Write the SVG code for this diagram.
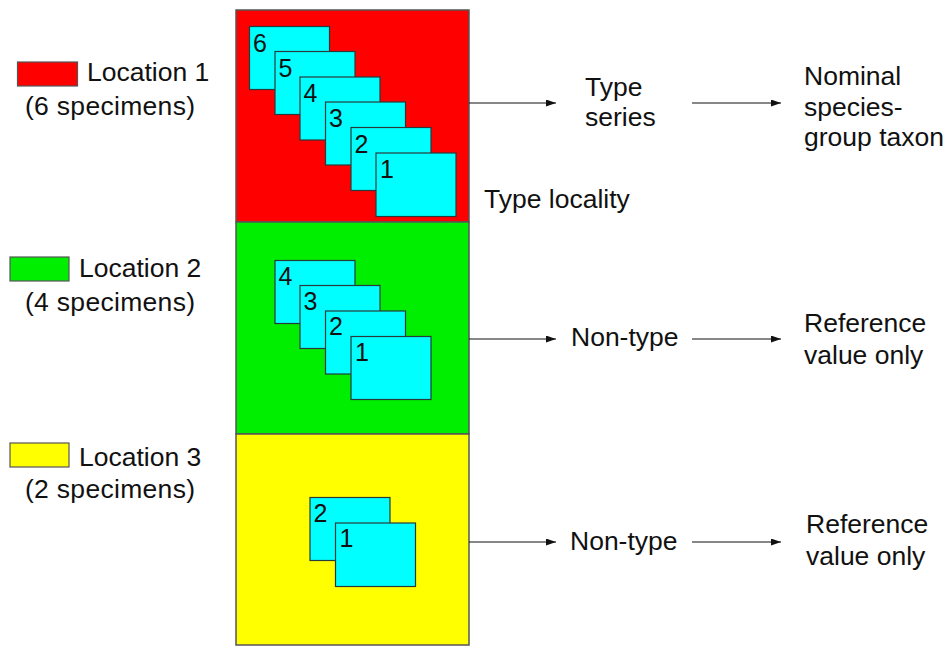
<svg xmlns="http://www.w3.org/2000/svg" width="951" height="646" viewBox="0 0 951 646">
  <defs>
    <style>
      text { font-family: "Liberation Sans", Arial, sans-serif; fill: #111; }
      .lbl { font-size: 26.5px; }
      .num { font-size: 25px; }
      .card { fill: #00ffff; stroke: #2a3a3a; stroke-width: 1.2; }
      .zone { stroke: #555; stroke-width: 1.5; }
      .key { stroke: #555; stroke-width: 1.2; }
      .conn { stroke: #111; stroke-width: 1.2; fill: none; marker-end: url(#arrow); }
    </style>
    <marker id="arrow" markerUnits="userSpaceOnUse" markerWidth="11" markerHeight="8" refX="10" refY="3.5" orient="auto">
      <path d="M0,0 L10,3.5 L0,7 z" fill="#111"/>
    </marker>
  </defs>

  <rect width="951" height="646" fill="#ffffff"/>

  <!-- Legend -->
  <g id="legend-location-1">
    <rect class="key" x="17.5" y="62" width="60" height="24" fill="#ff0000"/>
    <text class="lbl" x="87" y="81">Location 1</text>
    <text class="lbl" x="25" y="115" textLength="170">(6 specimens)</text>
  </g>
  <g id="legend-location-2">
    <rect class="key" x="10" y="257" width="59" height="24" fill="#00ee00"/>
    <text class="lbl" x="79" y="277">Location 2</text>
    <text class="lbl" x="25" y="311" textLength="170">(4 specimens)</text>
  </g>
  <g id="legend-location-3">
    <rect class="key" x="10" y="443" width="59" height="24" fill="#ffff00"/>
    <text class="lbl" x="79" y="466">Location 3</text>
    <text class="lbl" x="25" y="498" textLength="170">(2 specimens)</text>
  </g>

  <!-- Location 1: type locality with six specimens -->
  <g id="location-1">
    <rect class="zone" x="236" y="10" width="233" height="212" fill="#ff0000"/>
    <rect class="card" x="249.5" y="26.5" width="80" height="63"/>
    <text class="num" x="253" y="51.5">6</text>
    <rect class="card" x="275" y="51.5" width="80" height="63"/>
    <text class="num" x="278.5" y="76.5">5</text>
    <rect class="card" x="300" y="77" width="80" height="63"/>
    <text class="num" x="303.5" y="102">4</text>
    <rect class="card" x="325.5" y="102" width="80" height="63"/>
    <text class="num" x="329" y="127">3</text>
    <rect class="card" x="351" y="127.5" width="80" height="63"/>
    <text class="num" x="354.5" y="152.5">2</text>
    <rect class="card" x="376" y="153" width="80" height="63.5"/>
    <text class="num" x="380" y="178">1</text>
  </g>

  <!-- Location 2: four specimens -->
  <g id="location-2">
    <rect class="zone" x="236" y="222" width="233" height="212" fill="#00ee00"/>
    <rect class="card" x="275" y="260.5" width="80" height="63"/>
    <text class="num" x="278.5" y="284.5">4</text>
    <rect class="card" x="300" y="285.5" width="80" height="63"/>
    <text class="num" x="303.5" y="309.5">3</text>
    <rect class="card" x="325.5" y="311" width="80" height="63"/>
    <text class="num" x="329" y="335">2</text>
    <rect class="card" x="351" y="336.5" width="80" height="63"/>
    <text class="num" x="355" y="360.5">1</text>
  </g>

  <!-- Location 3: two specimens -->
  <g id="location-3">
    <rect class="zone" x="236" y="434" width="233" height="211" fill="#ffff00"/>
    <rect class="card" x="310" y="497.5" width="80" height="63"/>
    <text class="num" x="313.5" y="521.5">2</text>
    <rect class="card" x="335.5" y="523" width="80" height="63.5"/>
    <text class="num" x="339.5" y="547">1</text>
  </g>

  <!-- Outcome labels -->
  <g id="type-locality">
    <text class="lbl" x="484" y="208">Type locality</text>
  </g>
  <g id="type-series">
    <text class="lbl" x="585" y="96">Type</text>
    <text class="lbl" x="585" y="126">series</text>
  </g>
  <g id="nominal-taxon">
    <text class="lbl" x="804" y="85">Nominal</text>
    <text class="lbl" x="804" y="116">species-</text>
    <text class="lbl" x="804" y="146">group taxon</text>
  </g>
  <g id="non-type-2">
    <text class="lbl" x="571" y="346">Non-type</text>
  </g>
  <g id="reference-2">
    <text class="lbl" x="804" y="332">Reference</text>
    <text class="lbl" x="804" y="364">value only</text>
  </g>
  <g id="non-type-3">
    <text class="lbl" x="570" y="550">Non-type</text>
  </g>
  <g id="reference-3">
    <text class="lbl" x="806" y="533">Reference</text>
    <text class="lbl" x="806" y="565">value only</text>
  </g>

  <!-- Connectors -->
  <g id="connectors">
    <line class="conn" x1="469" y1="103" x2="556" y2="103"/>
    <line class="conn" x1="692" y1="103" x2="781" y2="103"/>
    <line class="conn" x1="469" y1="339" x2="556" y2="339"/>
    <line class="conn" x1="692" y1="339" x2="781" y2="339"/>
    <line class="conn" x1="469" y1="542" x2="556" y2="542"/>
    <line class="conn" x1="692" y1="542" x2="781" y2="542"/>
  </g>
</svg>
